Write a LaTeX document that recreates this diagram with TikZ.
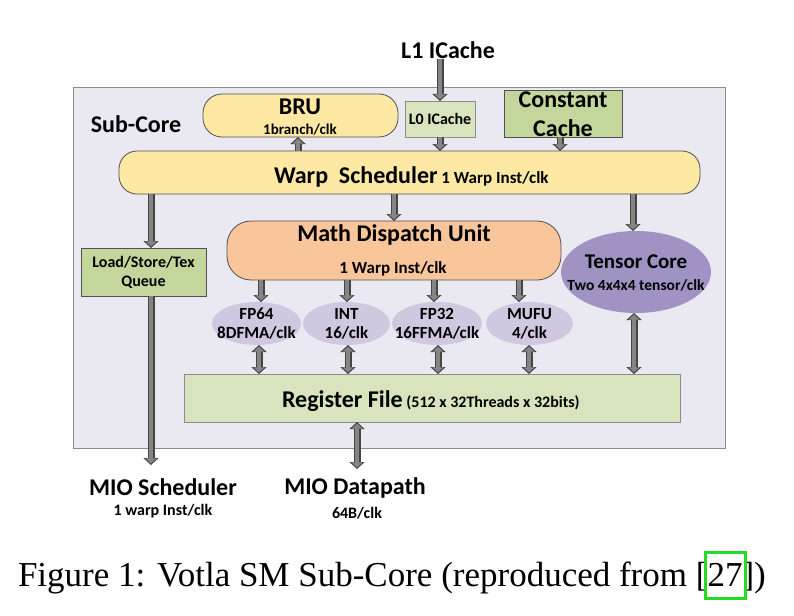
\documentclass[tikz,border=0pt]{standalone}
\usepackage{fontspec}
\setmainfont{Carlito}
\newfontfamily\capfont{Liberation Serif}
\usetikzlibrary{arrows.meta,shapes.geometric}
\definecolor{outerfill}{HTML}{EAE8F0}
\definecolor{outerdraw}{HTML}{8C8C8C}
\definecolor{yel}{HTML}{FDE8A4}
\definecolor{peach}{HTML}{F9C59B}
\definecolor{grn}{HTML}{C3D69B}
\definecolor{lgrn}{HTML}{D7E4BD}
\definecolor{purp}{HTML}{A093C3}
\definecolor{lpurp}{HTML}{D0C7E0}
\definecolor{arrin}{HTML}{858585}
\definecolor{arrout}{HTML}{454545}
\definecolor{edge}{HTML}{505050}
\definecolor{hl}{HTML}{22DD22}
\tikzset{
  base/.style={inner sep=0pt,outer sep=0pt},
  box/.style={base,draw=edge,line width=0.8pt},
  pill/.style={box,rounded corners=#1},
  oval/.style={base,ellipse},
  big/.style={base,font=\fontsize{24}{26}\selectfont\bfseries},
  mid/.style={base,font=\fontsize{21}{23}\selectfont\bfseries},
  sml/.style={base,font=\fontsize{16}{18}\selectfont\bfseries},
  smx/.style={base,font=\fontsize{17}{19}\selectfont\bfseries},
  unit/.style={base,font=\fontsize{17}{19}\selectfont\bfseries},
  arrA/.style={draw=arrout,line width=7pt,-{Triangle[width=15pt,length=7pt]}},
  arrB/.style={draw=arrin,line width=4pt,shorten >=1.6pt,-{Triangle[width=11pt,length=5pt]}},
  darrA/.style={draw=arrout,line width=7pt,{Triangle[width=15pt,length=7pt]}-{Triangle[width=15pt,length=7pt]}},
  darrB/.style={draw=arrin,line width=4pt,shorten >=1.6pt,shorten <=1.6pt,{Triangle[width=11pt,length=5pt]}-{Triangle[width=11pt,length=5pt]}},
}
\begin{document}
\begin{tikzpicture}[x=1pt,y=-1pt]
\useasboundingbox (0,0) rectangle (794,615);
% outer sub-core
\node[base,draw=outerdraw,fill=outerfill,line width=0.8pt,minimum width=652,minimum height=361] (sub) at (399,267.5) {};
\node[big] (subt) at (136,124) {Sub-Core};
% top row
\node[big] (l1) at (448,50) {L1 ICache};
\node[pill=19pt,fill=yel,minimum width=195,minimum height=43] (bru) at (300.5,115.5) {};
\node[big] (brut) at (300,107) {BRU};
\node[base,font=\fontsize{15}{17}\selectfont\bfseries] (brus) at (300,130) {1branch/clk};
\node[base,draw=outerdraw,fill=lgrn,line width=0.8pt,minimum width=70,minimum height=36] (l0) at (440,119) {};
\node[sml] (l0t) at (440,119) {L0 ICache};
\node[box,fill=grn,minimum width=118,minimum height=47] (cc) at (563,113.5) {};
\node[big] (cct1) at (563,100) {Constant};
\node[big] (cct2) at (563,128) {Cache};
% warp scheduler
\node[pill=18pt,fill=yel,minimum width=581,minimum height=43] (ws) at (409.5,172.5) {};
\node[big,anchor=base west] (wst) at (274,183) {Warp\ \ Scheduler};
\node[smx,anchor=base west] (wss) at (wst.base east) {\ 1 Warp Inst/clk};
% second level
\node[box,fill=grn,minimum width=125,minimum height=48] (lsq) at (143.5,272) {};
\node[sml,align=center] (lsqt) at (143.5,272) {Load/Store/Tex\\[1pt]Queue};
\node[pill=24pt,fill=peach,minimum width=334,minimum height=59] (mdu) at (394,250.5) {};
\node[big] (mdut) at (394,235) {Math Dispatch Unit};
\node[smx] (mdus) at (393,269) {1 Warp Inst/clk};
\node[oval,fill=purp,minimum width=150,minimum height=82] (tc) at (636,272) {};
\node[mid] (tct) at (636,262) {Tensor Core};
\node[base,font=\fontsize{15.5}{17}\selectfont\bfseries] (tcs) at (636,285) {Two 4x4x4 tensor/clk};
% units
\node[oval,fill=lpurp,minimum width=89,minimum height=43] (fp64) at (256.5,323.5) {};
\node[oval,fill=lpurp,minimum width=87,minimum height=43] (int) at (346.5,323.5) {};
\node[oval,fill=lpurp,minimum width=90,minimum height=43] (fp32) at (437,323.5) {};
\node[oval,fill=lpurp,minimum width=87,minimum height=43] (mufu) at (529.5,323.5) {};
\node[unit,align=center] (fp64t) at (256.5,323.5) {FP64\\8DFMA/clk};
\node[unit,align=center] (intt) at (346.5,323.5) {INT\\16/clk};
\node[unit,align=center] (fp32t) at (437,323.5) {FP32\\16FFMA/clk};
\node[unit,align=center] (mufut) at (529.5,323.5) {MUFU\\4/clk};
% register file
\node[base,draw=outerdraw,fill=lgrn,line width=0.8pt,minimum width=496,minimum height=48] (rf) at (432,398) {};
\node[big,anchor=base west] (rft) at (282,407) {Register File};
\node[sml,anchor=base west] (rfs) at (rft.base east) {\ (512 x 32Threads x 32bits)};
% bottom labels
\node[big] (mios) at (163,487) {MIO Scheduler};
\node[sml] (mioss) at (163,511) {1 warp Inst/clk};
\node[big] (miod) at (355,488) {MIO Datapath};
\node[sml] (miods) at (357,513) {64B/clk};
% caption
\tikzset{capt/.style={base,font=\capfont\fontsize{35}{40}\selectfont,anchor=base west}}
\node[capt] (cap) at (18,586) {Figure 1: Votla SM Sub-Core (reproduced from [};
\node[capt] (capnum) at (cap.base east) {27};
\node[capt] (capend) at (capnum.base east) {])};
\node[base,draw=hl,line width=3pt,minimum width=40,minimum height=46,anchor=south,yshift=-12pt] (hlbox) at (capnum.base) {};
% x positions
\coordinate (xbru) at (298,0);
\coordinate (xcc) at (560,0);
\coordinate (xls) at (151,0);
\coordinate (xtc) at (633,0);
\coordinate (m1) at (261,0);
\coordinate (m2) at (347,0);
\coordinate (m3) at (434,0);
\coordinate (m4) at (519,0);
\coordinate (r1) at (259,0);
\coordinate (r2) at (348,0);
\coordinate (r3) at (438,0);
\coordinate (r4) at (529,0);
\coordinate (r5) at (634,0);
\coordinate (xmd) at (357,0);
\coordinate (schedend) at (151,465);
\coordinate (dataend) at (357,469);
% connectors (outline pass, then fill pass)
\foreach \s in {arrA,arrB}{
  \draw[\s] (l1.south -| l0.north) -- (l0.north);
  \draw[\s] (ws.north -| xbru) -- (bru.south -| xbru);
  \draw[\s] (l0.south) -- (ws.north -| l0.south);
  \draw[\s] (cc.south -| xcc) -- (ws.north -| xcc);
  \draw[\s] (ws.south -| xls) -- (lsq.north -| xls);
  \draw[\s] (ws.south -| mdu.north) -- (mdu.north);
  \draw[\s] (ws.south -| xtc) -- (tc.north -| xtc);
  \draw[\s] (lsq.south -| xls) -- (schedend);
  \draw[\s] (mdu.south -| m1) -- (fp64.north -| m1);
  \draw[\s] (mdu.south -| m2) -- (int.north -| m2);
  \draw[\s] (mdu.south -| m3) -- (fp32.north -| m3);
  \draw[\s] (mdu.south -| m4) -- (mufu.north -| m4);
}
\foreach \s in {darrA,darrB}{
  \draw[\s] (fp64.south -| r1) -- (rf.north -| r1);
  \draw[\s] (int.south -| r2) -- (rf.north -| r2);
  \draw[\s] (fp32.south -| r3) -- (rf.north -| r3);
  \draw[\s] (mufu.south -| r4) -- (rf.north -| r4);
  \draw[\s] (tc.south -| r5) -- (rf.north -| r5);
  \draw[\s] (rf.south -| xmd) -- (dataend);
}
\end{tikzpicture}
\end{document}
